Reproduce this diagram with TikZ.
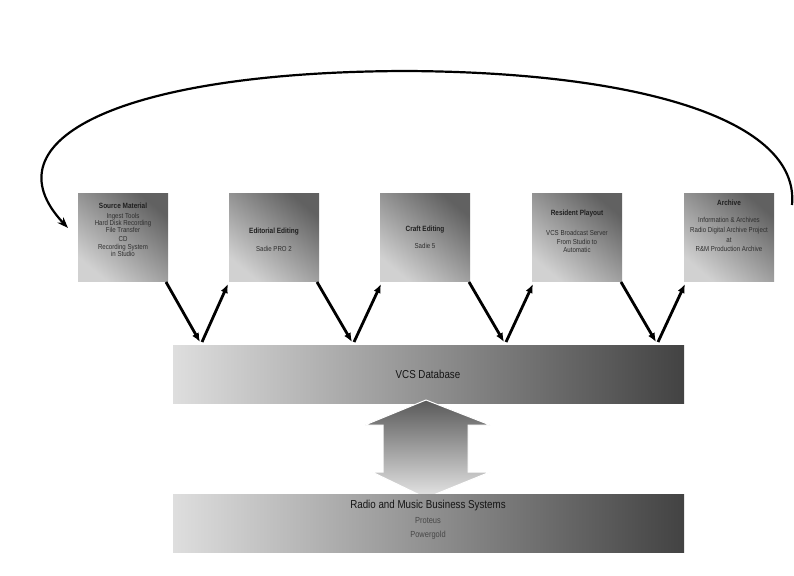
\documentclass[tikz,border=0pt]{standalone}
\usepackage{fontspec}
\setmainfont{Liberation Sans}[FakeStretch=0.85]
\usetikzlibrary{arrows.meta}
\definecolor{txtgray}{HTML}{2E2E2E}
\begin{document}
\begin{tikzpicture}[x=1pt,y=-1pt,
  stagebox/.style={minimum width=90pt,minimum height=88pt,anchor=north west,inner sep=0pt,
    top color=black!62,bottom color=black!18,shading angle=-40},
  barbox/.style={minimum width=511pt,minimum height=58pt,anchor=north west,inner sep=0pt,
    left color=black!13,right color=black!74},
  ttl/.style={font=\fontsize{7.6}{9.5}\selectfont\bfseries,text=black!88},
  sub/.style={font=\fontsize{7.2}{9.5}\selectfont,text=txtgray},
  bartxt/.style={font=\fontsize{11.5}{13}\selectfont,text=black!92},
  flow/.style={line width=2.8pt,-{Latex[length=9pt,width=7.5pt]}},
  loop/.style={line width=2.2pt,-{Stealth[length=11pt,width=8pt]}}]
\useasboundingbox (0,0) rectangle (794,575);
\fill[white] (0,0) rectangle (794,575);

% stage boxes
\node[stagebox] (b1) at (78,193) {};
\node[stagebox] (b2) at (229,193) {};
\node[stagebox] (b3) at (380,193) {};
\node[stagebox] (b4) at (532,193) {};
\node[stagebox] (b5) at (684,193) {};

\node[ttl] (t1) at (123,206) {Source Material};
\node[sub,align=center,anchor=north] (s1) at (123,210) {Ingest Tools\\[-2.5pt]Hard Disk Recording\\[-2.5pt]File Transfer\\[-1pt]CD\\[-1pt]Recording System\\[-2.5pt]in Studio};

\node[ttl] (t2) at (274,232) {Editorial Editing};
\node[sub] (s2) at (274,249) {Sadie PRO 2};

\node[ttl] (t3) at (425,230) {Craft Editing};
\node[sub] (s3) at (425,246) {Sadie 5};

\node[ttl] (t4) at (577,214) {Resident Playout};
\node[sub,align=center,anchor=north] (s4) at (577,227) {VCS Broadcast Server\\[-1pt]From Studio to\\[-1pt]Automatic};

\node[ttl] (t5) at (729,203) {Archive};
\node[sub,align=center,anchor=north] (s5) at (729,214) {Information \& Archives\\[-0pt]Radio Digital Archive Project\\[1pt]at\\[-1pt]R\&M Production Archive};

% bars
\node[barbox] (db) at (173,345) {};
\node[bartxt] (dbt) at (428,374) {VCS Database};

% double arrow
\shade[top color=black!65,bottom color=black!10,draw=white,line width=1pt]
  (426,400) -- (490,425) -- (468,425) -- (468,472) -- (490,472) -- (426,498)
  -- (372,472) -- (383,472) -- (383,425) -- (365,425) -- cycle;

\node[barbox] (bs) at (173,494) {};
\node[bartxt] (bst) at (428,506) {Radio and Music Business Systems};
\node[font=\fontsize{8.8}{11}\selectfont,text=black!72] (bsp) at (428,521) {Proteus};
\node[font=\fontsize{8.8}{11}\selectfont,text=black!72] (bsg) at (428,535) {Powergold};

% arrow endpoints
\coordinate (o1) at (166,282); \coordinate (m1) at (200,342); \coordinate (i2) at (228,284);
\coordinate (o2) at (317,282); \coordinate (m2) at (352,342); \coordinate (i3) at (381,284);
\coordinate (o3) at (469,282); \coordinate (m3) at (504,342); \coordinate (i4) at (533,284);
\coordinate (o4) at (621,282); \coordinate (m4) at (656,342); \coordinate (i5) at (685,284);
\foreach \k/\n in {1/2,2/3,3/4,4/5}{
  \draw[flow] (o\k) -- (m\k);
  \draw[flow] ([xshift=2pt]m\k) -- (i\n);
}

% loop arrow
\coordinate (ls) at (792,205);
\coordinate (lt) at (405,71);
\coordinate (le) at (68,228);
\draw[loop] (ls) .. controls (800,120) and (640,72) .. (lt)
  .. controls (120,72) and (-15,140) .. (le);
\end{tikzpicture}
\end{document}
